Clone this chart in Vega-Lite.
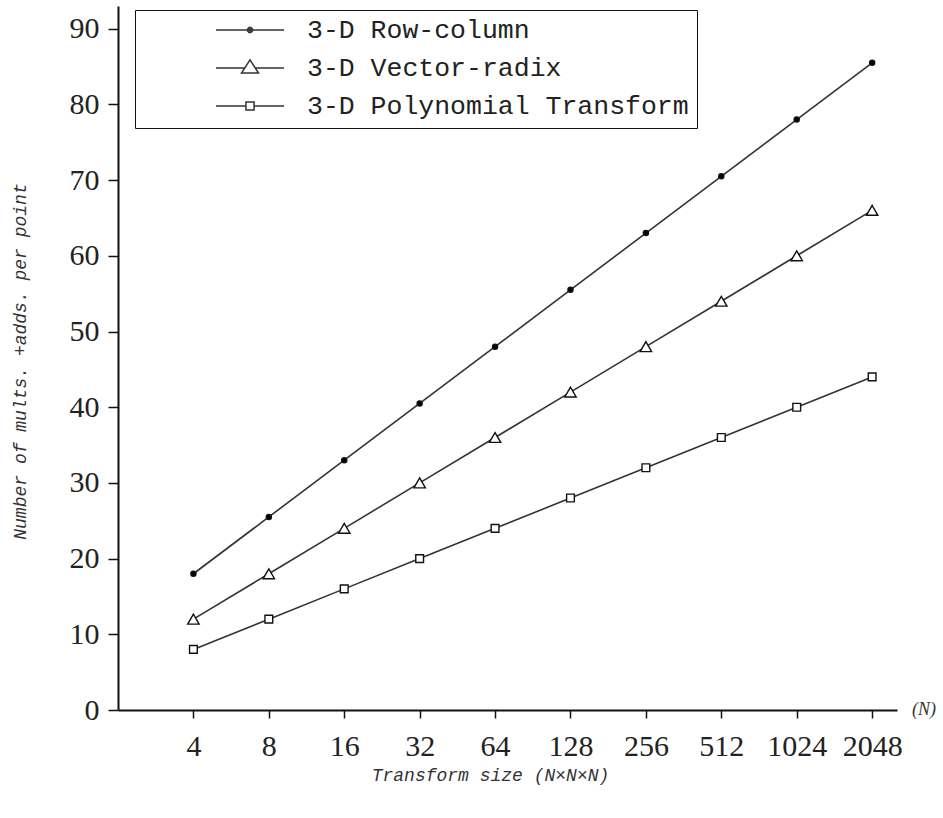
{
  "$schema": "https://vega.github.io/schema/vega-lite/v6.json",
  "width": 779,
  "height": 704,
  "autosize": "none",
  "padding": {"left": 118, "top": 6, "right": 46, "bottom": 108},
  "background": "white",
  "config": {
    "view": {"stroke": null},
    "axis": {"grid": false, "domainColor": "#111", "domainWidth": 2, "tickColor": "#111", "tickWidth": 1.5, "labelColor": "#222", "labelFont": "Liberation Serif", "labelFontSize": 30, "titleFont": "Liberation Mono", "titleFontStyle": "italic", "titleFontWeight": "normal", "titleFontSize": 18, "titleColor": "#333"}
  },
  "data": {
    "values": [
      {"N": 4, "series": "3-D Row-column", "value": 18},
      {"N": 8, "series": "3-D Row-column", "value": 25.5},
      {"N": 16, "series": "3-D Row-column", "value": 33},
      {"N": 32, "series": "3-D Row-column", "value": 40.5},
      {"N": 64, "series": "3-D Row-column", "value": 48},
      {"N": 128, "series": "3-D Row-column", "value": 55.5},
      {"N": 256, "series": "3-D Row-column", "value": 63},
      {"N": 512, "series": "3-D Row-column", "value": 70.5},
      {"N": 1024, "series": "3-D Row-column", "value": 78},
      {"N": 2048, "series": "3-D Row-column", "value": 85.5},
      {"N": 4, "series": "3-D Vector-radix", "value": 12},
      {"N": 8, "series": "3-D Vector-radix", "value": 18},
      {"N": 16, "series": "3-D Vector-radix", "value": 24},
      {"N": 32, "series": "3-D Vector-radix", "value": 30},
      {"N": 64, "series": "3-D Vector-radix", "value": 36},
      {"N": 128, "series": "3-D Vector-radix", "value": 42},
      {"N": 256, "series": "3-D Vector-radix", "value": 48},
      {"N": 512, "series": "3-D Vector-radix", "value": 54},
      {"N": 1024, "series": "3-D Vector-radix", "value": 60},
      {"N": 2048, "series": "3-D Vector-radix", "value": 66},
      {"N": 4, "series": "3-D Polynomial Transform", "value": 8},
      {"N": 8, "series": "3-D Polynomial Transform", "value": 12},
      {"N": 16, "series": "3-D Polynomial Transform", "value": 16},
      {"N": 32, "series": "3-D Polynomial Transform", "value": 20},
      {"N": 64, "series": "3-D Polynomial Transform", "value": 24},
      {"N": 128, "series": "3-D Polynomial Transform", "value": 28},
      {"N": 256, "series": "3-D Polynomial Transform", "value": 32},
      {"N": 512, "series": "3-D Polynomial Transform", "value": 36},
      {"N": 1024, "series": "3-D Polynomial Transform", "value": 40},
      {"N": 2048, "series": "3-D Polynomial Transform", "value": 44}
    ]
  },
  "encoding": {
    "x": {
      "field": "N", "type": "quantitative",
      "scale": {"type": "log", "base": 2, "domain": [2, 2574], "nice": false},
      "axis": {"values": [4, 8, 16, 32, 64, 128, 256, 512, 1024, 2048], "format": "d", "tickSize": 8, "labelPadding": 13, "labelFlush": false, "labelOverlap": false,
        "title": "Transform size (N×N×N)", "titleX": 372, "titleY": 70, "titleAnchor": "middle", "titleAlign": "center", "titleBaseline": "alphabetic"}
    },
    "y": {
      "field": "value", "type": "quantitative",
      "scale": {"domain": [0, 93], "nice": false, "zero": true},
      "axis": {"values": [0, 10, 20, 30, 40, 50, 60, 70, 80, 90], "tickSize": 10, "labelPadding": 9,
        "title": "Number of mults. +adds. per point", "titleX": -98, "titleY": 355, "titleAngle": -90, "titleAlign": "center", "titleBaseline": "middle", "titleAnchor": "middle"}
    }
  },
  "layer": [
    {
      "mark": {"type": "line", "color": "#333", "strokeWidth": 1.6},
      "encoding": {"detail": {"field": "series", "type": "nominal"}}
    },
    {
      "mark": {"type": "point", "filled": true, "stroke": "#111", "strokeWidth": 1.4, "opacity": 1},
      "encoding": {
        "shape": {"field": "series", "type": "nominal", "scale": {"domain": ["3-D Row-column", "3-D Vector-radix", "3-D Polynomial Transform"], "range": ["circle", "triangle-up", "square"]}, "legend": null},
        "fill": {"field": "series", "type": "nominal", "scale": {"domain": ["3-D Row-column", "3-D Vector-radix", "3-D Polynomial Transform"], "range": ["#000", "#fff", "#fff"]}, "legend": null},
        "size": {"field": "series", "type": "nominal", "scale": {"type": "ordinal", "domain": ["3-D Row-column", "3-D Vector-radix", "3-D Polynomial Transform"], "range": [26, 130, 60]}, "legend": null}
      }
    },
    {
      "mark": {"type": "point", "filled": false, "opacity": 0, "stroke": "#333", "strokeWidth": 1.5},
      "encoding": {
        "shape": {"field": "series", "type": "nominal",
          "scale": {"domain": ["3-D Row-column", "3-D Vector-radix", "3-D Polynomial Transform"],
            "range": [
              "M-1,0H1M-0.07,-0.03L-0.03,-0.07L0.03,-0.07L0.07,-0.03L0.07,0.03L0.03,0.07L-0.03,0.07L-0.07,0.03ZM-0.03,0L0,-0.03L0.03,0L0,0.03Z",
              "M-1,0H-0.154M0.154,0H1M0,-0.24L0.25,0.15L-0.25,0.15Z",
              "M-1,0H-0.12M0.12,0H1M-0.12,-0.12H0.12V0.12H-0.12Z"
            ]},
          "legend": {"orient": "none", "legendX": 17, "legendY": 4, "title": null, "strokeColor": "#111", "padding": 8,
            "symbolSize": 4624, "clipHeight": 24, "rowPadding": 11, "symbolOffset": 72, "labelOffset": 22,
            "labelFont": "Liberation Mono", "labelFontSize": 26.5, "labelColor": "#222", "labelLimit": 0,
            "symbolStrokeColor": "#333", "symbolStrokeWidth": 1.5, "symbolOpacity": 1, "symbolFillColor": "transparent",
            "encode": {
              "symbols": {"update": {"stroke": {"value": "#333"}, "strokeWidth": {"value": 1.5}, "opacity": {"value": 1}, "strokeOpacity": {"value": 1}}},
              "legend": {"update": {"strokeWidth": {"value": 2}}}
            }}
        }
      }
    },
    {
      "data": {"values": [{"label": "(N)", "N": 2574, "value": 0}]},
      "mark": {"type": "text", "align": "left", "baseline": "middle", "dx": 15, "font": "Liberation Serif", "fontStyle": "italic", "fontSize": 18, "color": "#333"},
      "encoding": {"text": {"field": "label", "type": "nominal"}}
    }
  ],
  "resolve": {"scale": {"shape": "independent", "fill": "independent", "size": "independent"}}
}
